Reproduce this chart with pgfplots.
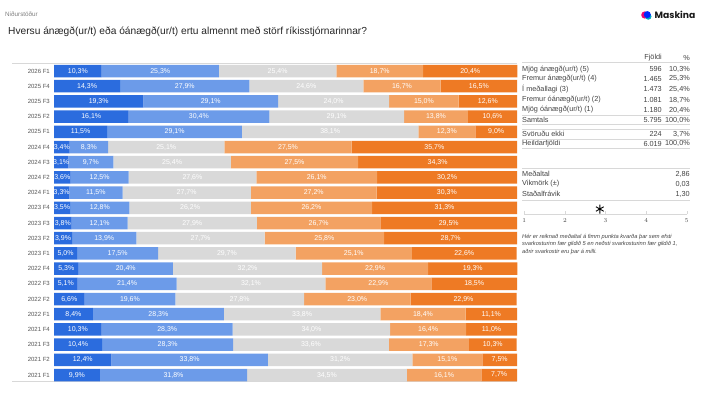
\documentclass[border=0pt]{standalone}
\usepackage{pgfplots}
\pgfplotsset{compat=1.18}
\usepackage{pgfplotstable}
\usepackage{fontspec}
\setmainfont{Liberation Sans}
\newfontfamily\poppins{Poppins}
\definecolor{cA}{HTML}{2B6CDE}
\definecolor{cB}{HTML}{6C9BE9}
\definecolor{cC}{HTML}{D9D9D9}
\definecolor{cD}{HTML}{F3A262}
\definecolor{cE}{HTML}{EE7A24}
\definecolor{lab}{HTML}{555555}
\definecolor{txt}{HTML}{444444}
\definecolor{rule}{HTML}{D8D8D8}

\pgfplotstableread{
y a b c d e
0 10.3 25.3 25.4 18.7 20.4
1 14.3 27.9 24.6 16.7 16.5
2 19.3 29.1 24.0 15.0 12.6
3 16.1 30.4 29.1 13.8 10.6
4 11.5 29.1 38.1 12.3 9.0
5 3.4 8.3 25.1 27.5 35.7
6 3.1 9.7 25.4 27.5 34.3
7 3.6 12.5 27.6 26.1 30.2
8 3.3 11.5 27.7 27.2 30.3
9 3.5 12.8 26.2 26.2 31.3
10 3.8 12.1 27.9 26.7 29.5
11 3.9 13.9 27.7 25.8 28.7
12 5.0 17.5 29.7 25.1 22.6
13 5.3 20.4 32.2 22.9 19.3
14 5.1 21.4 32.1 22.9 18.5
15 6.6 19.6 27.8 23.0 22.9
16 8.4 28.3 33.8 18.4 11.1
17 10.3 28.3 34.0 16.4 11.0
18 10.4 28.3 33.6 17.3 10.3
19 12.4 33.8 31.2 15.1 7.5
20 9.9 31.8 34.5 16.1 7.7
}\data

\pgfplotsset{
  mybars/.style={
    at={(54pt,9.4pt)}, anchor=south west, scale only axis,
    width=463pt, height=319.2pt,
    xbar stacked, bar width=12.5pt,
    xmin=0, xmax=100, ymin=-0.5, ymax=20.5, y dir=reverse,
    axis line style={draw=none}, major tick length=0pt,
    xtick=\empty, ytick={0,...,20},
    every axis plot/.append style={draw=none},
    clip=false,
  }
}

\begin{document}
\begin{tikzpicture}[x=1pt,y=1pt]
\path[fill=white] (0,0) rectangle (713,392);
% header
\node[anchor=west,inner sep=0pt,text=gray,font=\fontsize{6.3}{7}\selectfont] at (5,377.7) {Niðurstöður};
\node[anchor=west,inner sep=0pt,text=black!85,font=\fontsize{10.2}{12}\selectfont] at (8,360.5) {Hversu ánægð(ur/t) eða óánægð(ur/t) ertu almennt með störf ríkisstjórnarinnar?};
% logo
\fill[magenta!75!red] (644.8,377) circle (3.6);
\fill[cyan!70!green] (648.3,375.5) circle (3.2);
\fill[blue!85!cyan] (647.3,377.4) circle (3.5);
\node[anchor=west,inner sep=0pt,text=black!90,font=\poppins\bfseries\fontsize{9.2}{10}\selectfont] at (654.5,377) {Maskina};
% frame lines of chart
\draw[rule,line width=0.6pt] (12,328.6) -- (517,328.6);
\draw[rule,line width=0.6pt] (12,10.3) -- (517,10.3);

% bars
\begin{axis}[
  mybars,
  yticklabels={2026 F1,2025 F4,2025 F3,2025 F2,2025 F1,2024 F4,2024 F3,2024 F2,2024 F1,2023 F4,2023 F3,2023 F2,2023 F1,2022 F4,2022 F3,2022 F2,2022 F1,2021 F4,2021 F3,2021 F2,2021 F1},
  yticklabel style={font=\fontsize{6}{7}\selectfont, text=lab, inner sep=0pt, xshift=-4pt},
]
\addplot[fill=cA] table[x=a,y=y]{\data};
\addplot[fill=cB] table[x=b,y=y]{\data};
\addplot[fill=cC] table[x=c,y=y]{\data};
\addplot[fill=cD] table[x=d,y=y]{\data};
\addplot[fill=cE] table[x=e,y=y]{\data};
\end{axis}

% value labels on top of all bars
\begin{axis}[
  mybars,
  yticklabels={},
  point meta=explicit,
  nodes near coords={\pgfmathprintnumber[fixed,fixed zerofill,precision=1,use comma,assume math mode=true]{\pgfplotspointmeta}\%},
  every node near coord/.append style={font=\fontsize{7}{8}\selectfont, text=white, anchor=center},
]
\addplot[fill=none] table[x=a,y=y,meta=a]{\data};
\addplot[fill=none] table[x=b,y=y,meta=b]{\data};
\addplot[fill=none] table[x=c,y=y,meta=c]{\data};
\addplot[fill=none] table[x=d,y=y,meta=d]{\data};
\addplot[fill=none] table[x=e,y=y,meta=e]{\data};
\end{axis}

% summary table
\begin{scope}[font=\fontsize{7.3}{8}\selectfont, text=txt]
\node[anchor=east,inner sep=0pt] at (662,334.5) {Fjöldi};
\node[anchor=east,inner sep=0pt] at (690,334.5) {\%};
\draw[rule] (522,329.3) -- (690,329.3);
\foreach \yy/\l/\n/\p in {322.7/{Mjög ánægð(ur/t) (5)}/596/{10,3},
                          313.3/{Fremur ánægð(ur/t) (4)}/{1.465}/{25,3},
                          302.7/{Í meðallagi (3)}/{1.473}/{25,4},
                          292/{Fremur óánægð(ur/t) (2)}/{1.081}/{18,7},
                          282/{Mjög óánægð(ur/t) (1)}/{1.180}/{20,4},
                          272/{Samtals}/{5.795}/{100,0},
                          257.7/{Svöruðu ekki}/{224}/{3,7},
                          248.3/{Heildarfjöldi}/{6.019}/{100,0}}{
  \node[anchor=west,inner sep=0pt] at (522,\yy) {\l};
  \node[anchor=east,inner sep=0pt] at (662,\yy) {\n};
  \node[anchor=east,inner sep=0pt] at (690,\yy) {\p\%};
}
\draw[rule] (522,277) -- (690,277);
\draw[rule] (522,267.5) -- (690,267.5);
\draw[rule] (522,263) -- (690,263);
\draw[rule] (522,253) -- (690,253);
\draw[rule] (522,243.5) -- (690,243.5);
\draw[rule] (522,223.7) -- (690,223.7);
\node[anchor=west,inner sep=0pt] at (522,218) {Meðaltal};
\node[anchor=east,inner sep=0pt] at (690,218) {2,86};
\node[anchor=west,inner sep=0pt] at (522,208) {Vikmörk (±)};
\node[anchor=east,inner sep=0pt] at (690,208) {0,03};
\node[anchor=west,inner sep=0pt] at (522,198) {Staðalfrávik};
\node[anchor=east,inner sep=0pt] at (690,198) {1,30};
\draw[rule] (522,192) -- (690,192);
\end{scope}

\begin{axis}[
  at={(524.3pt,178pt)}, anchor=south west, scale only axis,
  width=162.4pt, height=10pt,
  xmin=1, xmax=5, ymin=0, ymax=1,
  axis x line=bottom, axis y line=none,
  x axis line style={-, draw=rule},
  xtick={1,...,5}, tick align=inside, major tick length=3pt,
  tick style={draw=rule},
  xticklabel style={font=\fontsize{6.5}{7}\selectfont, text=txt, yshift=-1pt},
  clip=false,
]
\addplot[only marks, mark=asterisk, mark size=4.5pt, line width=0.9pt, black] coordinates {(2.86,0.5)};
\end{axis}

\node[anchor=north west,inner sep=0pt,align=left,text=txt,font=\itshape\fontsize{5.7}{7.3}\selectfont] at (522,157.8) {Hér er reiknað meðaltal á fimm punkta kvarða þar sem efsti\\svarkosturinn fær gildið 5 en neðsti svarkosturinn fær gildið 1,\\aðrir svarkostir eru þar á milli.};
\end{tikzpicture}
\end{document}
